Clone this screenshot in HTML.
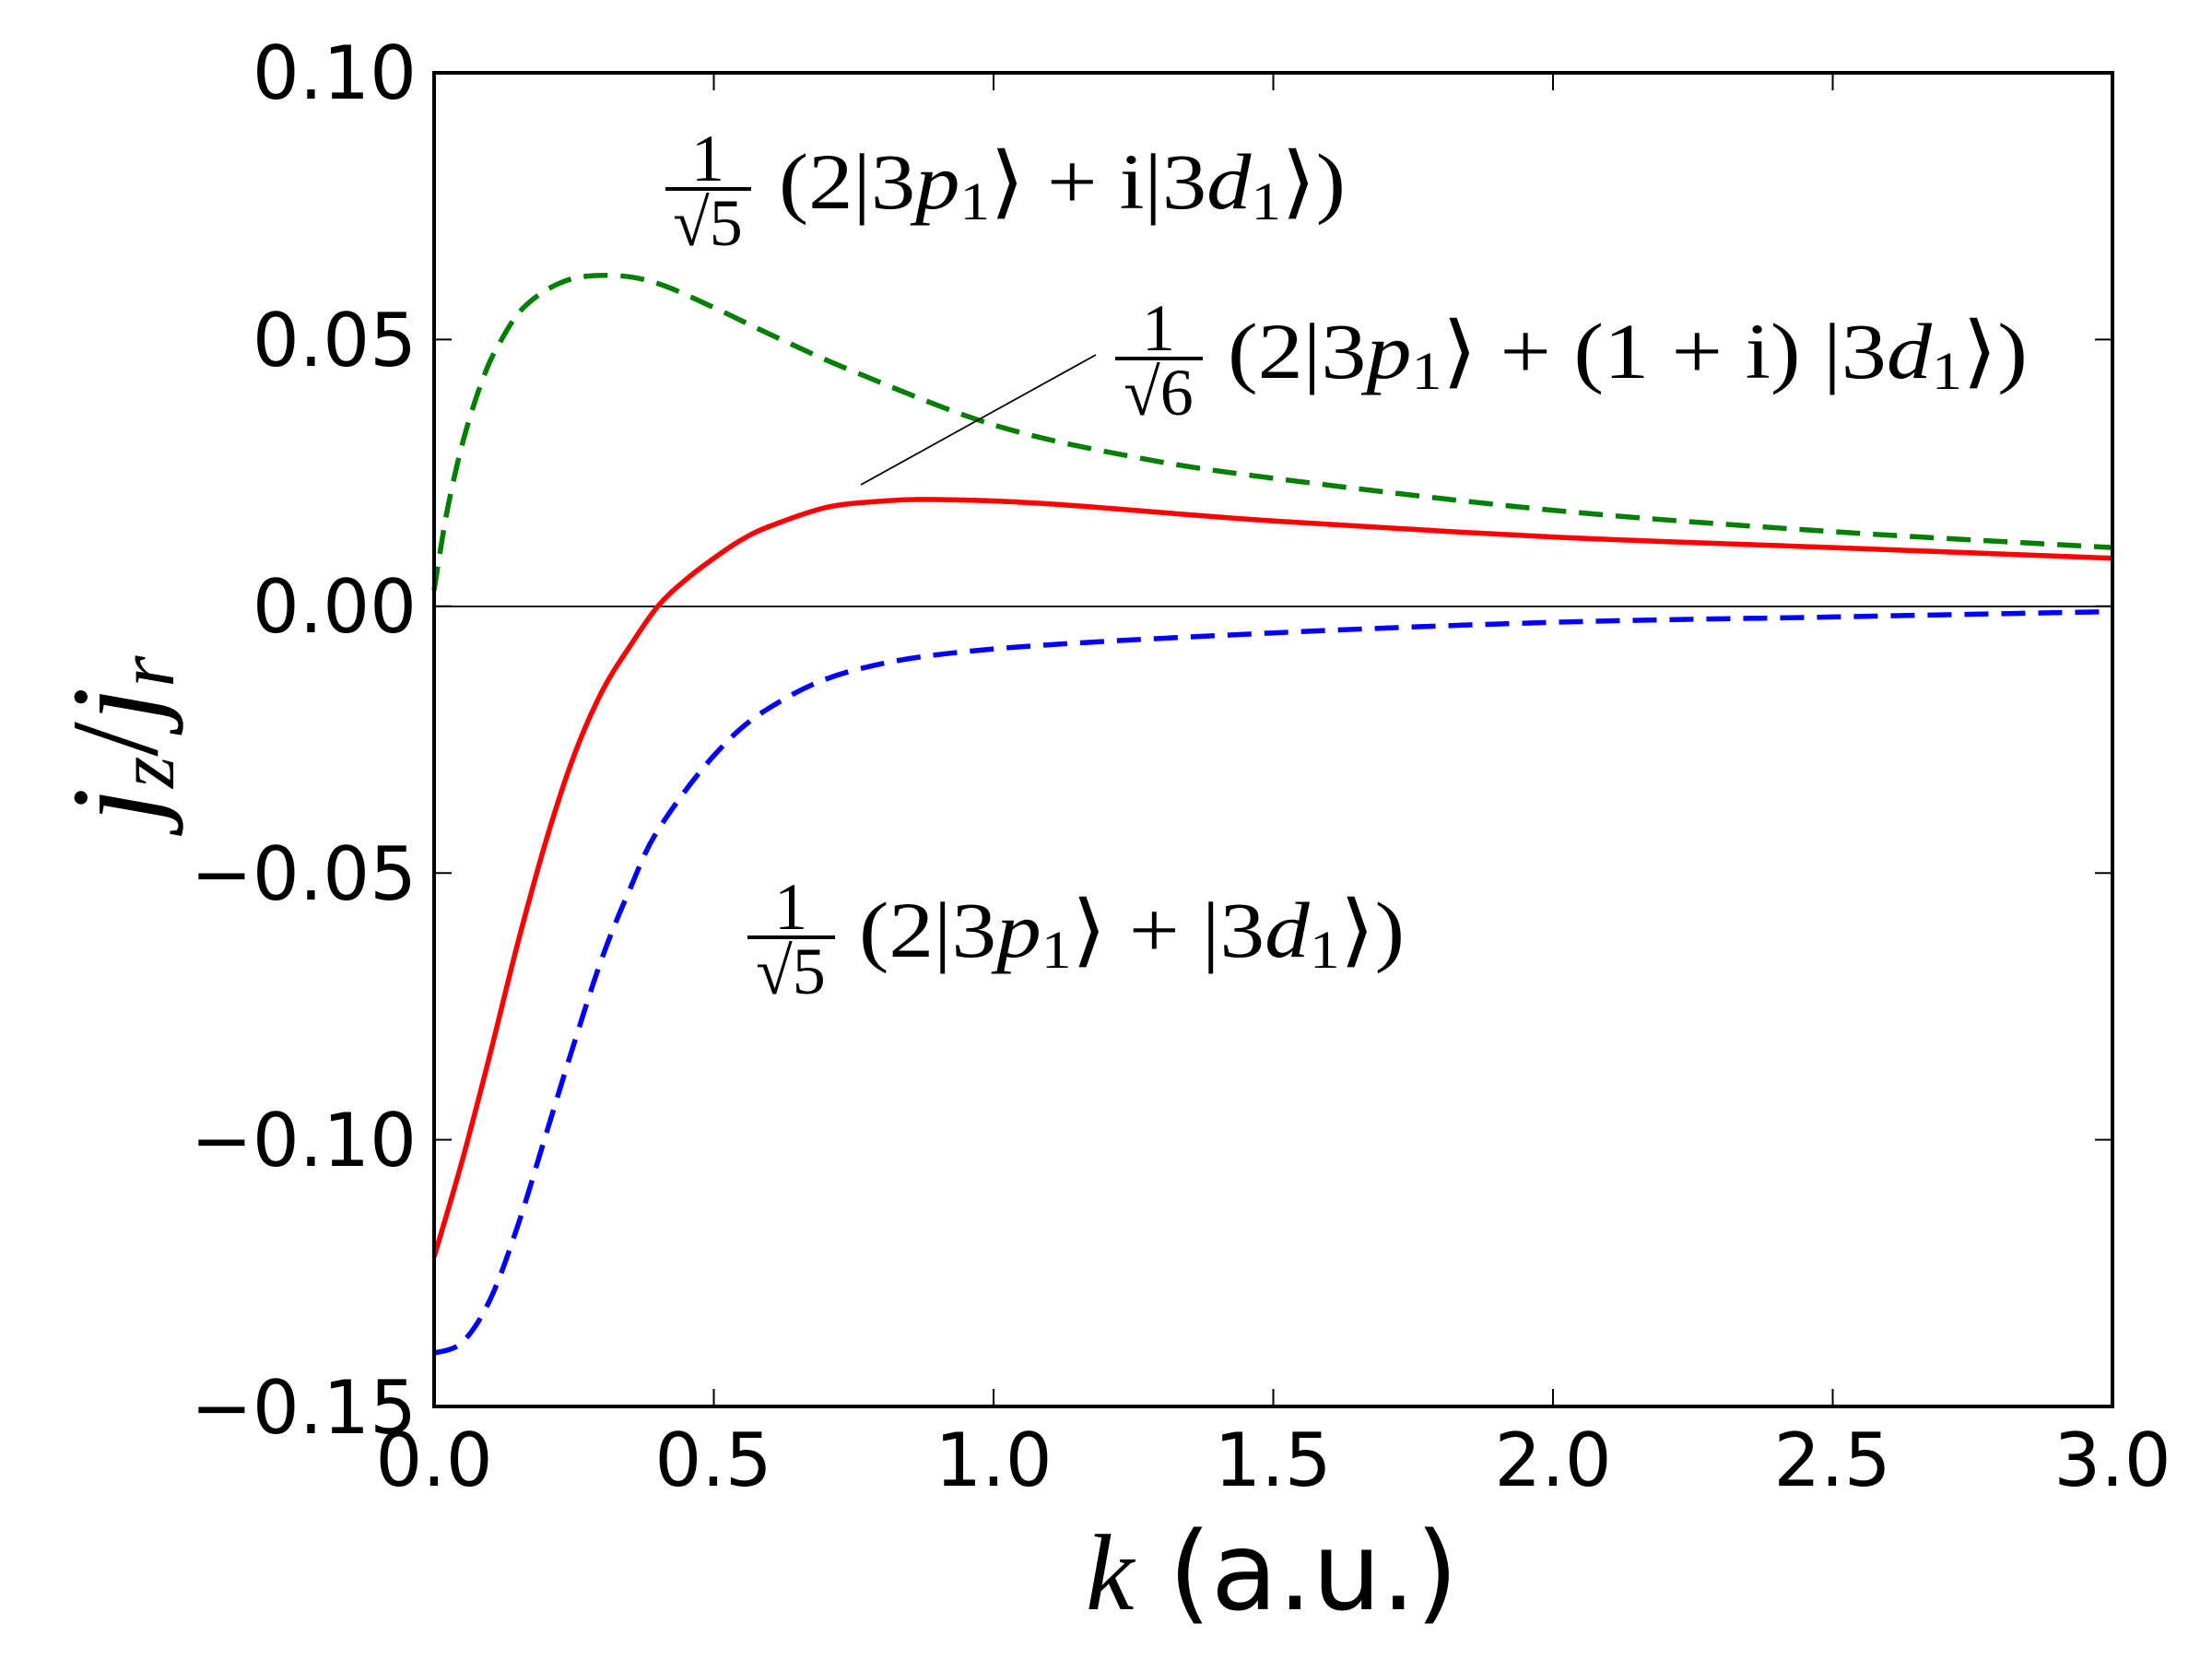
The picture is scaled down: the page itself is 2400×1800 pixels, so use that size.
<!DOCTYPE html>
<html><head><meta charset="utf-8"><style>
html,body{margin:0;padding:0;background:#fff;}
svg{display:block;}
.t{font-family:"DejaVu Sans","Liberation Sans",sans-serif;font-size:80px;fill:#000;}
.m{font-family:"Liberation Serif",serif;font-size:86px;fill:#000;}
.f{font-size:72px;}
</style></head><body>
<svg id="s" width="2400" height="1800" viewBox="0 0 2400 1800" xmlns="http://www.w3.org/2000/svg">
<rect width="2400" height="1800" fill="#fff"/>
<line x1="471" y1="658" x2="2292" y2="658" stroke="#000" stroke-width="1.8"/>
<g id="curves" fill="none" stroke-width="5.5"></g>
<line x1="934" y1="526" x2="1189" y2="385" stroke="#000" stroke-width="1.8"/>
<rect x="471" y="79" width="1821" height="1447" fill="none" stroke="#000" stroke-width="4"/>
<g id="ticks" stroke="#000" stroke-width="2"></g>
<g class="t" text-anchor="end">
<text x="452" y="107">0.10</text>
<text x="452" y="397">0.05</text>
<text x="452" y="686">0.00</text>
<text x="452" y="976">−0.05</text>
<text x="452" y="1265">−0.10</text>
<text x="452" y="1555">−0.15</text>
</g>
<g class="t" text-anchor="middle">
<text x="471" y="1612">0.0</text>
<text x="774" y="1612">0.5</text>
<text x="1078" y="1612">1.0</text>
<text x="1381" y="1612">1.5</text>
<text x="1685" y="1612">2.0</text>
<text x="1988" y="1612">2.5</text>
<text x="2292" y="1612">3.0</text>
</g>
<text x="1178" y="1746" style="font-family:'DejaVu Sans',sans-serif;font-size:118px"><tspan style="font-family:'Liberation Serif',serif;font-style:italic">k</tspan> (a.u.)</text>
<text transform="translate(170,802) rotate(-90)" text-anchor="middle" style="font-family:'Liberation Serif',serif;font-style:italic;font-size:135px">j<tspan font-size="88" dy="18">z</tspan><tspan dy="-18" font-style="normal">/</tspan><tspan>j</tspan><tspan font-size="88" dy="18">r</tspan></text>
<g class="m">
<text class="f" x="768" y="196" text-anchor="middle">1</text>
<line x1="722" y1="205" x2="815" y2="205" stroke="#000" stroke-width="4"/>
<text class="f" x="768" y="266" text-anchor="middle">√5</text>
<text x="845" y="226" textLength="615" lengthAdjust="spacingAndGlyphs">(2|3<tspan font-style="italic">p</tspan><tspan font-size="58" dy="12">1</tspan><tspan dy="-12">⟩ + i|3</tspan><tspan font-style="italic">d</tspan><tspan font-size="58" dy="12">1</tspan><tspan dy="-12">⟩)</tspan></text>
</g>
<g class="m">
<text class="f" x="1257" y="380" text-anchor="middle">1</text>
<line x1="1210" y1="389" x2="1305" y2="389" stroke="#000" stroke-width="4"/>
<text class="f" x="1257" y="450" text-anchor="middle">√6</text>
<text x="1332" y="410" textLength="868" lengthAdjust="spacingAndGlyphs">(2|3<tspan font-style="italic">p</tspan><tspan font-size="58" dy="12">1</tspan><tspan dy="-12">⟩ + (1 + i) |3</tspan><tspan font-style="italic">d</tspan><tspan font-size="58" dy="12">1</tspan><tspan dy="-12">⟩)</tspan></text>
</g>
<g class="m">
<text class="f" x="858" y="1008" text-anchor="middle">1</text>
<line x1="811" y1="1017" x2="906" y2="1017" stroke="#000" stroke-width="4"/>
<text class="f" x="858" y="1078" text-anchor="middle">√5</text>
<text x="932" y="1038" textLength="592" lengthAdjust="spacingAndGlyphs">(2|3<tspan font-style="italic">p</tspan><tspan font-size="58" dy="12">1</tspan><tspan dy="-12">⟩ + |3</tspan><tspan font-style="italic">d</tspan><tspan font-size="58" dy="12">1</tspan><tspan dy="-12">⟩)</tspan></text>
</g>
</svg>
<script>
(function(){
var X=function(k){return 471+k*607;},Y=function(v){return 79+(0.10-v)*5788;};
function path(d){var p=d.map(function(a){return [X(a[0]),Y(a[1])];});
var s="M"+p[0][0].toFixed(1)+","+p[0][1].toFixed(1);
for(var i=0;i<p.length-1;i++){var p0=p[i-1]||p[i],p1=p[i],p2=p[i+1],p3=p[i+2]||p2;
var c1=[p1[0]+(p2[0]-p0[0])/6,p1[1]+(p2[1]-p0[1])/6],c2=[p2[0]-(p3[0]-p1[0])/6,p2[1]-(p3[1]-p1[1])/6];
s+="C"+c1[0].toFixed(1)+","+c1[1].toFixed(1)+" "+c2[0].toFixed(1)+","+c2[1].toFixed(1)+" "+p2[0].toFixed(1)+","+p2[1].toFixed(1);}
return s;}
var G=[[0,0.003],[0.02,0.016],[0.04,0.026],[0.06,0.034],[0.085,0.042],[0.11,0.048],[0.16,0.056],[0.235,0.061],[0.32,0.062],[0.4,0.0605],[0.5,0.056],[0.6,0.051],[0.75,0.044],[1.0,0.034],[1.25,0.028],[1.5,0.024],[2,0.018],[2.5,0.014],[3,0.011]];
var R=[[0,-0.122],[0.05,-0.104],[0.1,-0.084],[0.15,-0.063],[0.2,-0.044],[0.25,-0.028],[0.3,-0.016],[0.35,-0.0075],[0.4,0.0],[0.45,0.005],[0.5,0.009],[0.55,0.0125],[0.6,0.015],[0.7,0.0185],[0.8,0.0197],[0.9,0.020],[1.1,0.0192],[1.5,0.016],[2,0.013],[2.5,0.011],[3,0.009]];
var B=[[0,-0.140],[0.05,-0.138],[0.1,-0.130],[0.15,-0.116],[0.2,-0.099],[0.25,-0.082],[0.3,-0.066],[0.35,-0.053],[0.4,-0.042],[0.5,-0.028],[0.6,-0.019],[0.75,-0.012],[1.0,-0.008],[1.5,-0.005],[2,-0.003],[2.5,-0.002],[3,-0.001]];
var g=document.getElementById("curves"),ns="http://www.w3.org/2000/svg";
[[G,"#008000",1],[B,"#0000ff",1],[R,"#ff0000",0]].forEach(function(c){var e=document.createElementNS(ns,"path");
e.setAttribute("d",path(c[0]));e.setAttribute("stroke",c[1]);if(c[2])e.setAttribute("stroke-dasharray","26 14");g.appendChild(e);});
var t=document.getElementById("ticks"),s="";
for(var i=0;i<=6;i++){var x=X(i*0.5);s+='<line x1="'+x+'" y1="79" x2="'+x+'" y2="98"/><line x1="'+x+'" y1="1526" x2="'+x+'" y2="1507"/>';}
for(var j=0;j<=5;j++){var y=Y(0.10-j*0.05);s+='<line x1="471" y1="'+y+'" x2="490" y2="'+y+'"/><line x1="2292" y1="'+y+'" x2="2273" y2="'+y+'"/>';}
t.innerHTML=s;
})();
</script>
</body></html>
